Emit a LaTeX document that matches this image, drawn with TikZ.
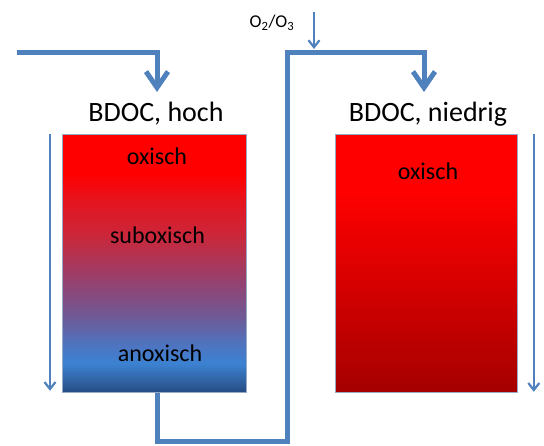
\documentclass[tikz,border=0pt]{standalone}
\usepackage{fontspec}
\setmainfont{Carlito}
\usetikzlibrary{arrows.meta}
\definecolor{flow}{RGB}{79,129,189}
\definecolor{edge}{RGB}{150,170,200}
\definecolor{gA}{RGB}{35,75,130}
\definecolor{gB}{RGB}{45,90,150}
\definecolor{gC}{RGB}{60,130,210}
\definecolor{gD}{RGB}{80,115,190}
\definecolor{gE}{RGB}{110,90,150}
\definecolor{gF}{RGB}{150,65,110}
\definecolor{gG}{RGB}{200,40,60}
\definecolor{gH}{RGB}{230,20,30}
\definecolor{gI}{RGB}{255,0,0}
\definecolor{rA}{RGB}{165,0,0}
\pgfdeclareverticalshading{leftgrad}{100bp}{color(0bp)=(gA); color(25bp)=(gA); color(26.4bp)=(gB); color(30.6bp)=(gC); color(34.5bp)=(gD); color(39.5bp)=(gE); color(46.7bp)=(gF); color(55bp)=(gG); color(62.2bp)=(gH); color(67.4bp)=(gI); color(100bp)=(gI)}
\pgfdeclareverticalshading{rightgrad}{100bp}{color(0bp)=(rA); color(25bp)=(rA); color(64bp)=(gI); color(100bp)=(gI)}
\begin{document}
\begin{tikzpicture}[x=1pt,y=-1pt,
  thickflow/.style={draw=flow,line width=5pt},
  thinflow/.style={draw=flow,line width=2.2pt,-{Straight Barb[length=7pt,width=11pt]}},
  bigtip/.style={-{Straight Barb[length=16pt,width=22pt]}},
  tank/.style={rectangle,inner sep=0pt,anchor=north west,draw=edge,line width=0.8pt,shade},
  title/.style={anchor=base,font=\fontsize{28}{31}\selectfont},
  zone/.style={anchor=base,font=\fontsize{24}{27}\selectfont},
  gas/.style={anchor=base,font=\fontsize{18}{21}\selectfont}]
\useasboundingbox (0,0) rectangle (544,446);
\node[tank,shading=leftgrad,minimum width=184pt,minimum height=258pt] (L) at (62,134) {};
\node[tank,shading=rightgrad,minimum width=182pt,minimum height=258pt] (R) at (335,134) {};
\node[title] (TL) at (156,122) {BDOC, hoch};
\node[title] (TR) at (428,122) {BDOC, niedrig};
\node[zone] (Z1) at (157,165) {oxisch};
\node[zone] (Z2) at (157.5,244) {suboxisch};
\node[zone] (Z3) at (160,362) {anoxisch};
\node[zone] (Z4) at (428,180) {oxisch};
\node[gas] (O) at (272,28) {O\textsubscript{2}/O\textsubscript{3}};
\coordinate (src) at (17,53);
\coordinate (inTip) at (157,92);
\coordinate (bend) at (287,442);
\coordinate (top2) at (287,53);
\coordinate (rTip) at (424,92);
\coordinate (o2a) at (314,12);
\coordinate (o2b) at (314,49);
\draw[thickflow,bigtip] (src) -| (inTip);
\draw[thickflow,bigtip] ([xshift=3pt]L.south) |- (bend) -- (top2) -| (rTip);
\draw[thinflow] (o2a) -- (o2b);
\draw[thinflow] ([xshift=-12pt]L.north west) -- ([xshift=-12pt,yshift=2pt]L.south west);
\draw[thinflow] ([xshift=16pt]R.north east) -- ([xshift=16pt,yshift=1pt]R.south east);
\end{tikzpicture}
\end{document}
